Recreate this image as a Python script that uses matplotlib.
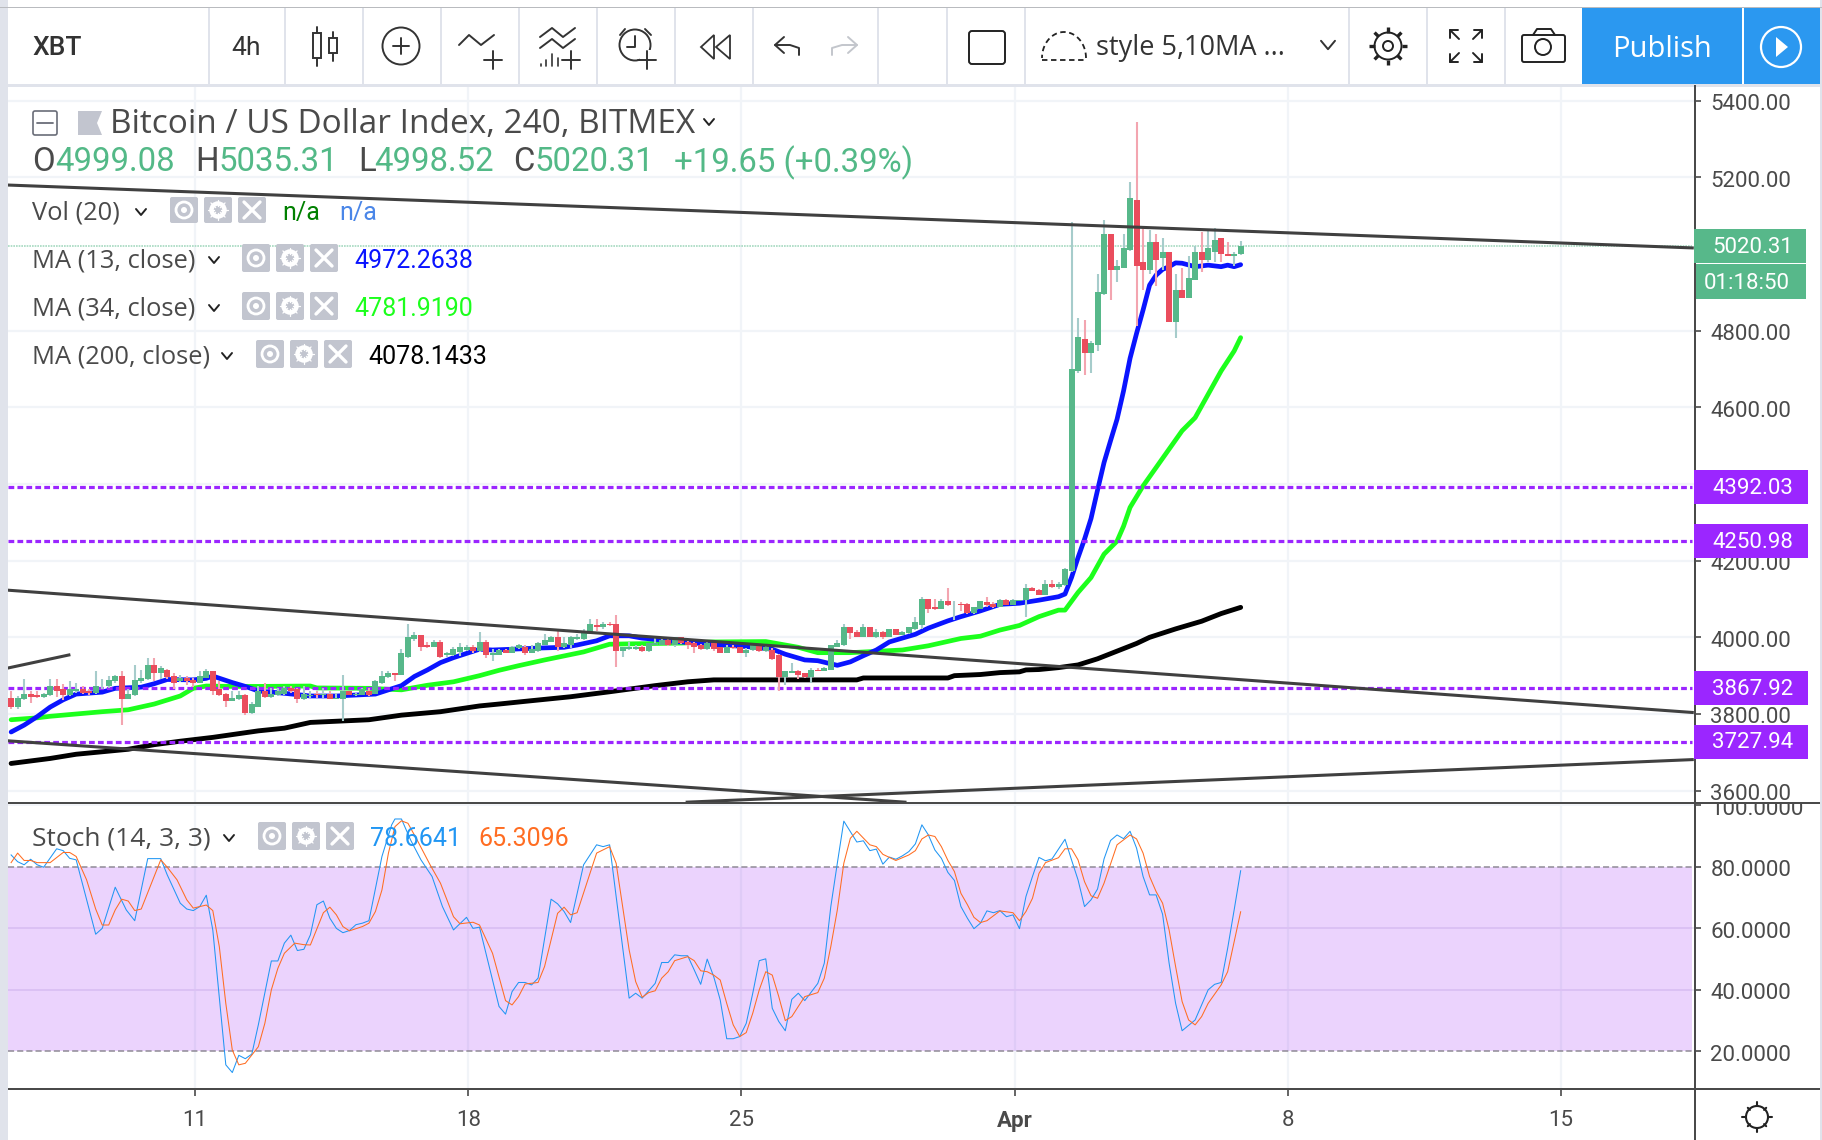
import numpy as np
import matplotlib
matplotlib.use("Agg")
import matplotlib.pyplot as plt
from matplotlib.patches import Rectangle, Circle, FancyBboxPatch, Polygon, Ellipse
from matplotlib.transforms import Bbox, ScaledTranslation

plt.rcParams['font.family'] = ['Roboto', 'DejaVu Sans']

# ------------------------------------------------------------------ data
opens = [3843,3819,3839,3853,3849,3845,3849,3874,3864,3849,
3859,3864,3859,3854,3872,3872,3887,3900,3840,3850,
3887,3892,3927,3907,3916,3900,3887,3895,3890,3881,
3895,3911,3864,3853,3834,3840,3849,3803,3819,3859,
3845,3850,3853,3869,3864,3840,3847,3853,3850,3853,
3840,3840,3859,3850,3850,3859,3853,3880,3897,3906,
3902,3949,3996,4005,3979,3975,3989,3953,3954,3963,
3968,3974,3965,3989,3954,3954,3968,3960,3971,3974,
3960,3964,3981,3989,4000,3974,3979,3996,3996,4010,
4031,4026,4036,4036,3964,3970,3970,3974,3964,3981,
3981,3994,3980,4000,3989,3984,3979,3969,3984,3974,
3960,3975,3974,3960,3968,3979,3965,3968,3953,3897,
3907,3911,3906,3897,3916,3913,3916,3975,3979,4026,
4015,4001,4026,4000,4015,4001,4021,4007,4012,4021,
4033,4099,4078,4074,4094,4086,4088,4088,4064,4074,
4093,4088,4080,4098,4084,4096,4097,4130,4124,4111,
4140,4131,4137,4173,4694,4778,4741,4762,4896,5052,
4958,4964,5010,5141,4979,4958,5031,4990,5005,4823,
4906,4885,4932,5005,4984,5005,5042,5000,4995,4999.08]
highs = [3860,3847,3891,3860,3860,3855,3891,3891,3878,3885,
3880,3873,3865,3911,3891,3900,3901,3911,3865,3927,
3914,3947,3947,3926,3917,3907,3901,3900,3895,3911,
3917,3913,3887,3856,3859,3859,3852,3830,3873,3880,
3869,3867,3874,3874,3867,3874,3859,3860,3869,3859,
3856,3901,3860,3855,3869,3869,3888,3911,3911,3908,
3969,4036,4015,4007,3989,3994,3994,3961,3974,3984,
3979,3979,4015,3994,3969,3969,3969,3978,3983,3979,
3979,3989,4010,4004,4021,4000,4004,4010,4021,4047,
4047,4041,4039,4057,3974,3989,3979,3979,3985,4000,
4000,3997,4001,4001,3994,3987,3982,3989,3986,3976,
3979,3979,3975,3971,3982,3982,3979,3972,3956,3913,
3932,3916,3907,3921,3920,3923,3981,3994,4036,4027,
4019,4036,4027,4021,4017,4021,4022,4017,4027,4052,
4104,4101,4099,4099,4130,4094,4091,4090,4080,4095,
4104,4093,4099,4099,4099,4098,4140,4131,4125,4150,
4150,4145,4182,5083,4833,4827,4773,4948,5089,5052,
4984,5052,5188,5344,5073,5063,5052,5042,5005,4948,
4963,4995,5021,5057,5063,5068,5042,5031,5005,5035.31]
lows = [3813,3814,3836,3828,3843,3843,3847,3844,3837,3846,
3856,3852,3849,3853,3865,3868,3882,3772,3838,3847,
3882,3889,3885,3891,3891,3865,3884,3876,3871,3880,
3893,3849,3847,3818,3833,3837,3798,3801,3817,3843,
3843,3847,3850,3854,3828,3837,3843,3843,3843,3839,
3839,3782,3849,3848,3849,3847,3852,3878,3895,3887,
3901,3947,3991,3965,3973,3974,3947,3950,3952,3952,
3965,3960,3963,3945,3939,3953,3959,3959,3969,3954,
3959,3962,3980,3987,3965,3972,3971,3994,3994,4008,
4017,4021,4030,3923,3949,3968,3968,3962,3962,3980,
3980,3978,3975,3982,3970,3960,3968,3967,3965,3959,
3958,3969,3958,3949,3965,3963,3963,3942,3860,3876,
3906,3892,3895,3881,3911,3911,3914,3974,3977,3996,
4000,4000,4000,3998,3996,4000,4005,4005,4010,4019,
4022,4064,4072,4073,4083,4045,4069,4062,4061,4073,
4080,4077,4078,4084,4084,4095,4053,4121,4110,4110,
4130,4126,4135,4170,4690,4684,4689,4747,4893,4880,
4927,4963,5008,4812,4906,4948,4917,4958,4823,4781,
4885,4885,4932,4953,4979,4979,4979,4995,4969,4998.52]
closes = [3819,3843,3853,3845,3845,3853,3874,3860,3849,3864,
3864,3856,3854,3874,3874,3890,3900,3840,3853,3890,
3895,3927,3907,3921,3897,3880,3895,3885,3881,3900,
3911,3860,3850,3834,3843,3849,3803,3827,3859,3845,
3853,3859,3869,3859,3840,3853,3850,3849,3853,3840,
3843,3859,3850,3853,3864,3850,3885,3900,3906,3902,
3958,4000,4005,3974,3974,3989,3949,3958,3969,3974,
3974,3964,3989,3954,3958,3968,3960,3974,3979,3960,
3969,3984,3994,4000,3974,3984,4000,4000,4015,4036,
4027,4036,4033,3964,3974,3974,3974,3964,3984,3986,
3994,3980,4000,3985,3979,3975,3970,3984,3969,3960,
3976,3971,3960,3968,3979,3965,3975,3944,3897,3911,
3911,3902,3897,3916,3913,3921,3979,3984,4026,4012,
4001,4026,4001,4015,4000,4021,4007,4015,4026,4041,
4099,4074,4074,4094,4085,4088,4085,4064,4078,4094,
4084,4080,4098,4084,4098,4098,4130,4122,4111,4140,
4131,4140,4177,4700,4783,4741,4767,4901,5052,4958,
4969,5016,5146,4969,4958,5031,4984,5005,4823,4906,
4885,4937,5005,4984,5016,5037,5000,4995,5000,5020.31]

# moving averages, read at the listed bar numbers
ma13_bar = [1,3,5,7,9,11,15,17,21,23,25,29,31,32,35,37,39,43,47,51,57,61,63,65,67,69,73,75,78,82,86,88,91,93,96,98,104,109,114,118,120,123,125,128,130,132,134,136,138,140,142,145,147,150,153,156,159,162,163,164,165,166,167,168,169,170,171,172,173,174,175,176,177,178,179,180,181,183,185,187,188,189,190]
ma13_val = [3753,3771,3793,3818,3837,3852,3857,3867,3870,3879,3890,3889,3893,3899,3882,3872,3860,3854,3847,3847,3852,3874,3898,3915,3934,3947,3969,3967,3969,3972,3974,3980,3991,4004,4004,3998,3988,3981,3976,3969,3956,3941,3939,3927,3936,3952,3967,3988,3998,4008,4024,4043,4054,4069,4086,4089,4097,4106,4113,4156,4208,4256,4310,4384,4456,4513,4569,4643,4728,4793,4854,4919,4945,4960,4967,4977,4976,4967,4971,4967,4971,4967,4972.26]
ma34_bar = [1,5,7,11,15,19,23,27,29,31,35,39,47,48,56,61,65,69,73,76,79,83,89,93,96,104,109,117,122,125,130,138,142,147,150,153,156,159,162,163,165,167,169,171,172,173,175,177,179,181,183,185,187,189,190]
ma34_val = [3785,3790,3794,3800,3806,3811,3826,3847,3867,3873,3872,3872,3873,3868,3867,3863,3875,3884,3900,3914,3926,3941,3962,3982,3983,3985,3988,3989,3974,3960,3960,3967,3978,3997,4003,4019,4031,4054,4071,4071,4117,4156,4217,4251,4290,4339,4395,4443,4491,4539,4573,4634,4695,4747,4781.92]
ma200_bar = [1,7,11,19,23,27,32,39,43,47,56,61,67,73,76,80,87,93,100,105,109,131,132,145,146,150,153,156,157,159,162,165,168,171,174,176,180,184,187,190]
ma200_val = [3671,3684,3695,3708,3720,3729,3739,3756,3763,3778,3785,3797,3806,3821,3826,3833,3845,3858,3874,3884,3889,3889,3894,3894,3900,3903,3908,3910,3915,3916,3921,3928,3944,3964,3984,4000,4022,4042,4062,4078.14]

# horizontal levels and trend lines (prices; x in days after the 11th)
levels = [4392.03, 4250.98, 3867.92, 3727.94]
trend_x = [[-4.79, 38.36], [-4.79, 38.36], [-4.79, -3.23], [-4.79, 18.19], [12.61, 38.36]]
trend_p = [[5180, 5016], [4123, 3804], [3920, 3954], [3730, 3570], [3570, 3681]]

# stochastic
k_bar = [1,2,3,4,5,6,8,9,10,11,14,15,17,18.7,20,22,24,25,27,28,29,30,31,32,34,35,36,37,38,39,41,42,43,44,45,46,47,48,49,50,51,52,53,54,55,56,58,59.5,60,61,62.4,64,65.7,67.3,69,71,72,73,76,77,78,79,80,81,82,84,85,86,87,89,91,92,93,94,96,97,98,100,101,102,103,104,105,106,107,108,109,110,111,112,113,114,115,116,117,118,119,120,121,122,123,125,126,127,128,129,131,132,133,134,135,136,137,138,139,140,141,142,143,144,145,146,147,148,149,150,151,152,153,154,155,156,157,158,159,160,161,163,164,165,166,167,168,169,170,171,172,173,174,175,176,177,178,179,180,181,183,185,186,187,188,189,190]
k_val = [83.8,81.6,80.6,82.4,80.6,79.8,85.8,85.2,82.7,82.2,58.0,59.9,73.3,65.9,62.4,82.6,82.6,77.3,68.1,66.2,65.7,67.0,70.7,59.4,15.5,13.0,18.6,17.5,19.0,28.5,49.3,49.3,55.1,57.7,52.7,53.1,57.8,67.6,68.8,63.2,59.9,58.5,59.2,61.1,61.6,62.4,83.3,93.6,95.5,95.5,88.7,82.2,76.8,67.0,59.4,63.5,59.9,60.3,34.5,32.0,39.3,42.3,42.3,41.5,43.7,69.4,67.9,65.4,61.8,80.6,87.1,86.5,87.1,70.3,37.2,38.8,37.2,42,48.8,48.8,51.3,51,51,46.4,41.7,49.9,44.2,36.6,24,24,24.7,29,38.8,49.4,50,33.9,29.6,26.6,36.8,38.8,36.4,42,48.6,67,81.1,94.8,88,88.4,85.2,85.7,80.8,83.1,82.4,83.5,84.9,87.4,93.6,90.3,85.4,82.7,78.1,75.5,67,63.2,59.8,61.6,65.6,65,65.7,63.7,64.3,59.8,70.3,76.8,83,81.9,82.5,88.9,82.2,75.7,67,69.2,72.7,82.5,88.5,90.3,89.1,91.5,86,76.8,70.8,70.8,64.5,48.6,35.5,26.6,30.1,39.9,41.7,42.3,53.4,65.9,78.66]
d_bar = [1,2,3,4,5,7,9,10,11,12.6,14,15,16,17,18,19,20,21,24,25,26.5,28,29,31,32,33,34,35,36,37,38,39,40,41,42,43,44.6,46,47,49,50,51,52,53,55,56,57,58,59,60,61,62,63.4,65.4,67,69,70,72,73,75,77,78,79,80,82,83,85,86,87,88,91,93,94,96,97,98,99,100,101,102,103,105,106,107,108,109,110,111,112,113,114,115,116,117,118,119,120,121,122,123,125,126,127,128,129,130,131,133,134,135,137,139,140,141,142,143,144,145,146,147,148,149,150,151,153,155,156,157,158,159,160,162,163,164,165,166,167,168,169,171,173,174,175,176,177,178,179,180,181,182,183,184,185,187,188,189,190]
d_val = [81.3,84.4,82,82,81.3,81.3,84.6,84.6,83.3,75.7,66.2,61,61,65.9,69.4,68.8,65.7,66.2,82.2,79.8,75.7,69.2,66.5,67.5,65.7,54,35.5,20.3,15.5,16,18.7,21.4,29,39.9,46.9,51.8,55.1,54.6,54.5,65,66.8,64.3,60.5,59.1,60.5,61.6,65.4,72.4,84.4,93,94.9,94.1,88.7,80.6,74.6,63.7,61.4,61.9,61,51.8,36.4,35,37.7,41.8,42.3,47.5,64.8,66.8,64.3,65,84.4,86.5,81.1,52.9,42.6,37.5,39,39.6,43.7,45.8,49.4,50.7,49.4,46.1,45.8,44.7,43.1,35.5,28.5,24.7,26,32.3,39.9,45.8,44.7,37.7,29.9,31.2,34.5,37.7,39,43.7,54,65.9,81.1,89.2,91.5,87.1,86.5,84,82,83.8,85.2,89,90.3,89.8,86.5,82,78.4,71.3,67.6,63.5,61.8,62.4,65.6,65,62.4,65.4,69.7,77.8,81.3,82.9,85.8,85.8,82.2,75.1,70.5,69.7,74.6,87.1,90.3,89,84.4,76.8,71.9,68.1,59.4,47.5,36.1,30.1,28.5,31.2,35.5,41.5,45.8,55.6,65.31]

price_ticks = [5400, 5200, 4800, 4600, 4200, 4000, 3800, 3600]
price_grid = [5400, 5200, 4800, 4600, 4400, 4200, 4000, 3800, 3600]
stoch_ticks = [100, 80, 60, 40, 20]
day_ticks = [0, 7, 14, 21, 28, 35]
day_labels = ['11', '18', '25', 'Apr', '8', '15']

assert len(opens) == len(highs) == len(lows) == len(closes) == 190
assert len(ma13_bar) == len(ma13_val) and len(ma34_bar) == len(ma34_val) and len(ma200_bar) == len(ma200_val)
assert len(k_bar) == len(k_val), (len(k_bar), len(k_val))
assert len(d_bar) == len(d_val), (len(d_bar), len(d_val))

# ------------------------------------------------------------------ layout
W, H = 1822, 1140
fig = plt.figure(figsize=(W / 100, H / 100), dpi=100, facecolor='white')

def axes_px(x0, y0, x1, y1, **kw):
    return fig.add_axes([x0 / W, 1 - y1 / H, (x1 - x0) / W, (y1 - y0) / H], **kw)

GRID = '#f1f4f8'
TXT = '#4a4a4a'
UP, DOWN = '#57b88a', '#ea4d5d'
UPW, DOWNW = '#a6cccb', '#f3a5b0'
PURPLE = '#9b26ff'

def bar_x(b):
    return -4.71 + (np.asarray(b, dtype=float) - 1) / 6

ax = axes_px(8, 85, 1695, 803)
ax.set_xlim(-4.79, 38.43)
ax.set_ylim(3567.8, 5441)
sx = axes_px(8, 803, 1695, 1089)
sx.set_xlim(-4.79, 38.43)
sx.set_ylim(7.64, 100.7)

for a in (ax, sx):
    for s in a.spines.values():
        s.set_visible(False)
    a.yaxis.tick_right()
    a.tick_params(axis='y', length=4.3, width=1.2, color=TXT, pad=6.8,
                  labelsize=16, labelcolor=TXT, labelright=True, labelleft=False)
    a.set_xticks(day_ticks)
    a.grid(axis='x', color=GRID, lw=1.6, zorder=0)
    a.set_axisbelow(True)

ax.set_yticks(price_ticks)
ax.set_yticklabels(['%.2f' % v for v in price_ticks])
ax.tick_params(axis='x', length=0, labelbottom=False)
for v in price_grid:
    ax.axhline(v, color=GRID, lw=1.6, zorder=0.5)

sx.set_yticks(stoch_ticks)
sx.set_yticklabels(['%.4f' % v for v in stoch_ticks])
sx.set_xticklabels(day_labels)
sx.tick_params(axis='x', length=5, width=1.2, color=TXT, pad=10, labelsize=16, labelcolor=TXT)
for t in sx.get_xticklabels():
    if t.get_text() == 'Apr':
        t.set_fontweight('bold')
down_shift = ScaledTranslation(0, -1.5 / 100, fig.dpi_scale_trans)
for a in (ax, sx):
    for t in a.yaxis.get_major_ticks():
        t.label2.set_transform(t.label2.get_transform() + down_shift)
for t in sx.yaxis.get_major_ticks():
    t.label2.set_clip_on(True)
    t.label2.set_clip_box(Bbox([[1696, 0], [W, H - 803]]))

# indicator lines under the candles
ax.plot(bar_x(ma200_bar), ma200_val, color='#000000', lw=3.5, zorder=2, solid_capstyle='round')
ax.plot(bar_x(ma34_bar), ma34_val, color='#1cff1c', lw=3.4, zorder=2.1, solid_capstyle='round')
ax.plot(bar_x(ma13_bar), ma13_val, color='#0a14ff', lw=3.4, zorder=2.2, solid_capstyle='round')

# level lines
for v in levels:
    ax.plot([-4.79, 38.36], [v, v], color=PURPLE, lw=2.3, dashes=(1.8, 1.0), zorder=2.5)
ax.plot([-4.79, 38.36], [closes[-1], closes[-1]], color='#a5d9c0', lw=1.2, dashes=(1, 0.6), zorder=2.5)

# candles
xs = bar_x(np.arange(1, 191))
o, h, l, c = map(np.asarray, (opens, highs, lows, closes))
up = c >= o
ax.vlines(xs[up], l[up], h[up], color=UPW, lw=1.5, zorder=3)
ax.vlines(xs[~up], l[~up], h[~up], color=DOWNW, lw=1.5, zorder=3)
bw = 6 / 39.03
ax.bar(xs[up], (c - o)[up], bottom=o[up], width=bw, color=UP, lw=0, zorder=3.2)
ax.bar(xs[~up], (o - c)[~up], bottom=c[~up], width=bw, color=DOWN, lw=0, zorder=3.2)

# trend lines
for tx, tp in zip(trend_x, trend_p):
    ax.plot(tx, tp, color='#404040', lw=2.2, zorder=4, clip_on=True)

# stochastic pane
sx.axhline(100, color=GRID, lw=1.2, zorder=0.6)
for v in (60, 40):
    sx.axhline(v, color='#ece8f4', lw=1.4, zorder=0.6)
sx.fill_between([-4.79, 38.36], 20, 80, color='#9b27f5', alpha=0.2, lw=0, zorder=0.8)
for v in (80, 20):
    sx.plot([-4.79, 38.36], [v, v], color='#8f8a96', lw=1.1, dashes=(4, 2), zorder=1)
sx.plot(bar_x(k_bar), k_val, color='#2196f3', lw=0.75, zorder=3)
sx.plot(bar_x(d_bar), d_val, color='#ff6d22', lw=0.75, zorder=3.1)

# ------------------------------------------------------------------ overlay in pixels
ov = fig.add_axes([0, 0, 1, 1], zorder=10)
ov.set_xlim(0, W)
ov.set_ylim(H, 0)
ov.axis('off')
ov.patch.set_alpha(0)

def rect(x0, y0, x1, y1, color, z=1, **kw):
    ov.add_patch(Rectangle((x0, y0), x1 - x0, y1 - y0, facecolor=color, edgecolor='none', zorder=z, **kw))

def line(xs_, ys_, color='#333333', lw=1.4, z=3, **kw):
    ov.plot(xs_, ys_, color=color, lw=lw, zorder=z, solid_capstyle=kw.pop('cap', 'round'), **kw)

def text(x, y, s, size=18, color=TXT, ha='left', weight='normal', z=5, family=None):
    kw = {'family': family} if family else {}
    ov.text(x, y + 2.3, s, fontsize=size, color=color, ha=ha, va='center', fontweight=weight, zorder=z, **kw)

WIDE = ['Open Sans', 'DejaVu Sans']

def chevron(x, y, s=5, color='#222222', lw=1.4):
    line([x - s, x, x + s], [y - s * 0.6, y + s * 0.6, y - s * 0.6], color=color, lw=lw)

def plus(x, y, s=9, color='#333333', lw=1.4):
    line([x - s, x + s], [y, y], color=color, lw=lw, z=3.5)
    line([x, x], [y - s, y + s], color=color, lw=lw, z=3.5)

def btns(x0, y0, y1, w=28, step=34):
    cy = (y0 + y1) / 2
    for i in range(3):
        x = x0 + i * step
        ov.add_patch(FancyBboxPatch((x + 2, y0 + 2), w - 4, y1 - y0 - 4, boxstyle='round,pad=2',
                                    fc='#c2c5cf', ec='none', zorder=4))
        cx = x + w / 2
        if i == 0:
            ov.add_patch(Circle((cx, cy), 8, fc='none', ec='white', lw=2, zorder=5))
            ov.add_patch(Circle((cx, cy), 3, fc='white', ec='none', zorder=5))
        elif i == 1:
            ov.add_patch(Circle((cx, cy), 6.5, fc='none', ec='white', lw=3.2, zorder=5))
            for ang in np.arange(0, np.pi, np.pi / 4):
                line([cx - 10 * np.cos(ang), cx + 10 * np.cos(ang)],
                     [cy - 10 * np.sin(ang), cy + 10 * np.sin(ang)], color='white', lw=0.9, z=4.5)
            ov.add_patch(Circle((cx, cy), 3, fc='#c2c5cf', ec='none', zorder=5))
        else:
            line([cx - 8, cx + 8], [cy - 8, cy + 8], color='white', lw=2.4, z=5)
            line([cx - 8, cx + 8], [cy + 8, cy - 8], color='white', lw=2.4, z=5)

# frame
BAND = '#e0e3eb'
rect(0, 0, 8, H, BAND, z=0.5)
rect(1820, 0, W, H, BAND, z=0.5)
rect(0, 0, W, 7, 'white', z=0.4)
rect(0, 6.5, W, 8, '#b9bbbf', z=1)
rect(8, 8, 1820, 84, 'white', z=0.5)
rect(8, 84, 1820, 87, BAND, z=1)
for xp in [209, 285, 363, 441, 519, 597, 675, 753, 878, 947, 1025, 1349, 1427, 1505]:
    rect(xp - 0.7, 8, xp + 0.7, 84, BAND, z=1)
rect(1694, 85, 1696, H, TXT, z=2)
rect(8, 802, 1820, 804, TXT, z=2)
rect(8, 1088, 1820, 1090, TXT, z=2)

# toolbar
text(32, 46, 'XBT', size=19, color='#333333', weight='medium')
text(246, 46, '4h', size=19, color='#333333', ha='center')
line([317, 317], [27, 66]); ov.add_patch(Rectangle((313, 33), 8, 25, fc='white', ec='#333333', lw=1.4, zorder=4))
line([333, 333], [32, 61]); ov.add_patch(Rectangle((329, 38), 8, 15, fc='white', ec='#333333', lw=1.4, zorder=4))
ov.add_patch(Ellipse((401, 46), 37, 37, fc='none', ec='#333333', lw=1.4, zorder=3))
plus(401, 46, 8)
line([459, 469, 481, 494], [45, 35, 45, 35]); plus(493, 60, 9)
line([540, 552, 563, 575], [37, 28, 37, 28]); line([540, 552, 563, 575], [48, 39, 48, 39])
for bx, top in zip([541, 546, 552, 558], [64, 60, 54, 58]):
    line([bx, bx], [top, 66], lw=1.2)
plus(571, 60, 9)
ov.add_patch(Circle((635, 45), 15.5, fc='none', ec='#333333', lw=1.4, zorder=3))
line([625, 620], [29, 35]); line([645, 651], [29, 35])
line([635, 635, 627], [36, 47, 47]); rect(640, 50, 658, 70, 'white', z=3.2); plus(647, 60, 9)
ov.add_patch(Polygon([[701, 47], [714, 35], [714, 59]], fc='none', ec='#333333', lw=1.3, zorder=3))
ov.add_patch(Polygon([[716, 47], [730, 35], [730, 59]], fc='none', ec='#333333', lw=1.3, zorder=3))
line([784, 775, 784], [37, 45, 53]); line([775, 790, 799, 799], [45, 45, 48, 55])
line([848, 857, 848], [37, 45, 53], color='#c3c6cc'); line([857, 842, 832, 832], [45, 45, 48, 55], color='#c3c6cc')
ov.add_patch(FancyBboxPatch((972, 34), 30, 27, boxstyle='round,pad=3', fc='white', ec='#222222', lw=1.4, zorder=3))
th = np.linspace(0, np.pi, 40)
line(1064 + 22 * np.cos(th), 58 - 26 * np.sin(th), color='#222222', lw=1.3, dashes=(3, 2))
line([1042, 1086], [60, 60], color='#222222', lw=1.3, dashes=(3, 2))
text(1096, 46, 'style 5,10MA ...', size=19.5, color='#333333', family=WIDE)
chevron(1328, 45, 7, color='#333333')
ov.add_patch(Circle((1388, 46), 13.5, fc='none', ec='#222222', lw=1.4, zorder=3))
ov.add_patch(Circle((1388, 46), 5, fc='none', ec='#222222', lw=1.4, zorder=3))
for ang in np.arange(0, 2 * np.pi, np.pi / 4):
    line([1388 + 13.5 * np.cos(ang), 1388 + 19 * np.cos(ang)], [46 + 13.5 * np.sin(ang), 46 + 19 * np.sin(ang)],
         color='#222222', lw=2.4, cap='butt')
for sxx, syy, cx_, cy_ in [(-1, -1, 1456, 36), (1, -1, 1476, 36), (-1, 1, 1456, 56), (1, 1, 1476, 56)]:
    ex, ey = cx_ + sxx * 6, cy_ + syy * 6
    line([cx_ - sxx * 3, ex], [cy_ - syy * 3, ey], color='#222222', lw=1.4)
    line([ex - sxx * 8, ex, ex], [ey, ey, ey - syy * 8], color='#222222', lw=1.4)
ov.add_patch(FancyBboxPatch((1524, 37), 39, 23, boxstyle='round,pad=2', fc='white', ec='#222222', lw=1.4, zorder=3))
line([1533, 1537, 1551, 1555], [35, 29, 29, 35], color='#222222')
ov.add_patch(Circle((1543, 47), 8, fc='none', ec='#222222', lw=1.4, zorder=4))
rect(1582, 8, 1820, 84, '#2b98f0', z=1.5)
rect(1742.3, 8, 1743.7, 84, 'white', z=1.6)
text(1662, 47, 'Publish', size=21, color='white', ha='center', family=WIDE)
ov.add_patch(Circle((1781, 47), 20, fc='none', ec='white', lw=1.6, zorder=3))
ov.add_patch(Polygon([[1776, 37], [1776, 57], [1788, 47]], fc='white', ec='none', zorder=3))

# legend block
ov.add_patch(FancyBboxPatch((35, 113), 20, 20, boxstyle='round,pad=2', fc='white', ec='#6a6d78', lw=1.2, zorder=3))
line([37, 53], [123, 123], color='#6a6d78', lw=1.3)
ov.add_patch(Polygon([[78, 111], [102, 111], [97, 123], [102, 135], [78, 135]], fc='#c2c5cf', ec='none', zorder=3))
text(110, 122, 'Bitcoin / US Dollar Index, 240, BITMEX', size=24, family=WIDE)
chevron(709, 122, 5)
G = '#53b987'
for xp, s, col in [(32, 'O', TXT), (55, '4999.08', G), (195, 'H', TXT), (218, '5035.31', G), (358, 'L', TXT),
                   (374, '4998.52', G), (513, 'C', TXT), (534, '5020.31', G), (674, '+19.65 (+0.39%)', G)]:
    text(xp, 160, s, size=23.7, color=col)

text(32, 211, 'Vol (20)', size=18.4, family=WIDE); chevron(141, 212); btns(170, 197, 223)
text(282, 211, 'n/a', size=18, color='#008000'); text(339, 211, 'n/a', size=18, color='#4a86e8')
text(32, 259, 'MA (13, close)', size=18.4, family=WIDE); chevron(214, 260); btns(242, 244, 272)
text(354, 259, '4972.2638', size=18, color='#0a14ff')
text(32, 307, 'MA (34, close)', size=18.4, family=WIDE); chevron(214, 308); btns(242, 292, 320)
text(354, 307, '4781.9190', size=18, color='#1cff1c')
text(32, 355, 'MA (200, close)', size=18.4, family=WIDE); chevron(227, 356); btns(256, 340, 368)
text(368, 355, '4078.1433', size=18, color='#000000')
text(32, 837, 'Stoch (14, 3, 3)', size=19, family=WIDE); chevron(229, 838); btns(258, 822, 850)
text(370, 837, '78.6641', size=18, color='#2196f3')
text(478, 837, '65.3096', size=18, color='#ff6d22')

def price_y(p):
    return H - ax.transData.transform((0, p))[1]

for v in levels:
    y = price_y(v)
    rect(1694, y - 17, 1808, y + 17, '#9b26ff', z=6)
    text(1712, y - 1, '%.2f' % v, size=16, color='white', z=7)
y = price_y(closes[-1])
rect(1694, y - 17, 1806, y + 17, '#57b88a', z=6)
text(1712, y - 1, '%.2f' % closes[-1], size=16, color='white', z=7)
rect(1696, y + 18, 1806, y + 53, '#57b88a', z=6)
text(1704, y + 35, '01:18:50', size=16, color='white', z=7)

ov.add_patch(Ellipse((1757, 1117), 22, 22, fc='none', ec='#222222', lw=1.5, zorder=3))
for ang in np.arange(0, 2 * np.pi, np.pi / 2):
    line([1757 + 11 * np.cos(ang), 1757 + 15 * np.cos(ang)], [1117 + 11 * np.sin(ang), 1117 + 15 * np.sin(ang)],
         color='#222222', lw=1.5)
for ang in np.arange(np.pi / 4, 2 * np.pi, np.pi / 2):
    line([1757 + 10 * np.cos(ang), 1757 + 13 * np.cos(ang)], [1117 + 10 * np.sin(ang), 1117 + 13 * np.sin(ang)],
         color='#222222', lw=1.5)

fig.savefig('out.png', dpi=100, facecolor='white')
